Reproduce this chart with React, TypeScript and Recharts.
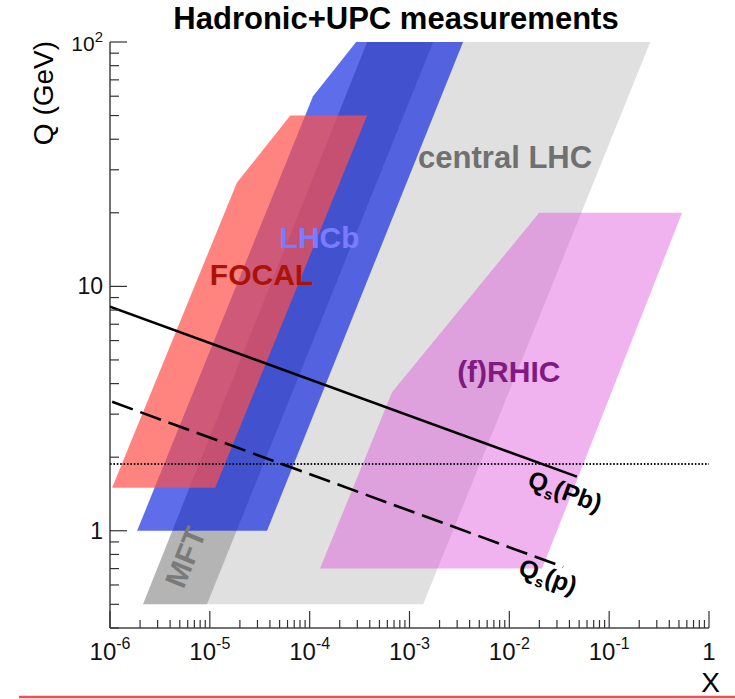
import React from 'react';
import { ComposedChart, XAxis, YAxis, Scatter, Line, ReferenceLine } from 'recharts';

// ---- axis ticks ----
const xMajorTicks = [1e-6, 1e-5, 1e-4, 1e-3, 1e-2, 1e-1, 1];
const xTickLabels = ['10^-6', '10^-5', '10^-4', '10^-3', '10^-2', '10^-1', '1'];
const yMajorTicks = [1, 10, 100];
const yTickLabels = ['1', '10', '10^2'];
const yExtraMinor = [0.4, 0.5, 0.6, 0.7, 0.8, 0.9];

// ---- acceptance regions (vertices: x, Q in GeV) ----
const centralLHC = [
  { x: 9.4e-6, q: 0.5 }, { x: 1.37e-3, q: 0.5 }, { x: 0.258, q: 100 }, { x: 1.73e-3, q: 100 },
];
const mftBand = [
  { x: 2.14e-6, q: 0.5 }, { x: 9.4e-6, q: 0.5 }, { x: 1.73e-3, q: 100 }, { x: 3.76e-4, q: 100 },
];
const lhcbBand = [
  { x: 1.87e-6, q: 1 }, { x: 3.74e-5, q: 1 }, { x: 3.44e-3, q: 100 }, { x: 2.92e-4, q: 100 }, { x: 1.08e-4, q: 60 },
];
const focalBand = [
  { x: 1.05e-6, q: 1.5 }, { x: 1.13e-5, q: 1.5 }, { x: 3.76e-4, q: 50 }, { x: 6.4e-5, q: 50 }, { x: 1.87e-5, q: 26.6 },
];
const rhicBand = [
  { x: 1.27e-4, q: 0.7 }, { x: 2.13e-2, q: 0.7 }, { x: 0.538, q: 20 }, { x: 1.99e-2, q: 20 }, { x: 6.7e-4, q: 3.7 },
];

// ---- saturation scales ----
const qsPb = [{ x: 1e-6, q: 8.26 }, { x: 0.0475, q: 1.665 }];
const qsP = [{ x: 1.05e-6, q: 3.37 }, { x: 0.0346, q: 0.711 }];
const qDotted = 1.876;

// ---- label anchors ----
const focalLabel = [{ x: 1e-5, q: 10.1 }];
const lhcbLabel = [{ x: 5.0e-5, q: 14.4 }];
const centralLabel = [{ x: 1.22e-3, q: 30.5 }];
const rhicLabel = [{ x: 3.0e-3, q: 4.06 }];
const mftLabel = [{ x: 5.65e-6, q: 0.78 }];
const qsPbLabel = [{ x: 0.0363, q: 1.455 }];
const qsPLabel = [{ x: 0.0245, q: 0.653 }];

const FONT = 'Liberation Sans, Arial, Helvetica, sans-serif';

const buildMinor = (majors: number[]) => {
  const out: number[] = [];
  for (let i = 0; i < majors.length - 1; i++) {
    for (let m = 2; m <= 9; m++) out.push(m * majors[i]);
  }
  return out;
};
const xTicksAll = [...xMajorTicks, ...buildMinor(xMajorTicks)].sort((a, b) => a - b);
const yTicksAll = [...yExtraMinor, ...yMajorTicks, ...buildMinor(yMajorTicks)].sort((a, b) => a - b);

const majorIndex = (v: number, majors: number[]) => majors.findIndex((t) => Math.abs(t - v) / t < 1e-6);

const PowText = (props: any) => {
  const { x, y, label, anchor, size, sup } = props;
  const [base, exp] = String(label).split('^');
  return (
    <text x={x} y={y} textAnchor={anchor} fontSize={size} fontFamily={FONT} fill="#111">
      {base}
      {exp !== undefined && (
        <tspan dy={-size * 0.45} fontSize={sup}>
          {exp}
        </tspan>
      )}
    </text>
  );
};

const TICK = '#333';

const makeXTick = (side: 'bottom' | 'top') => (props: any) => {
  const { x, y, payload } = props;
  const v = payload.value;
  const idx = majorIndex(v, xMajorTicks);
  const len = idx >= 0 ? 17 : 8;
  const dir = side === 'bottom' ? -1 : 1;
  return (
    <g>
      <line x1={x} y1={y} x2={x} y2={y + dir * len} stroke={TICK} strokeWidth={1.2} />
      {side === 'bottom' && idx >= 0 && (
        <PowText x={x} y={y + 32} label={xTickLabels[idx]} anchor="middle" size={24} sup={16} />
      )}
    </g>
  );
};

const makeYTick = (side: 'left' | 'right') => (props: any) => {
  const { x, y, payload } = props;
  const v = payload.value;
  const idx = majorIndex(v, yMajorTicks);
  const len = idx >= 0 ? 17 : 9;
  const dir = side === 'left' ? 1 : -1;
  const lab = idx >= 0 ? yTickLabels[idx] : null;
  return (
    <g>
      <line x1={x} y1={y} x2={x + dir * len} y2={y} stroke={TICK} strokeWidth={1.2} />
      {side === 'left' && lab && (
        <PowText
          x={x - 7}
          y={y + (lab.includes('^') ? 9 : 8)}
          label={lab}
          anchor="end"
          size={lab.includes('^') ? 21 : 23}
          sup={15}
        />
      )}
    </g>
  );
};

const polygon = (fill: string, opacity: number) => (p: any) => {
  const pts = (p.points || []).map((pt: any) => `${pt.x},${pt.y}`).join(' ');
  return <polygon points={pts} fill={fill} fillOpacity={opacity} stroke="none" />;
};

const noDot = () => <g />;

const textShape = (content: React.ReactNode, style: any) => (p: any) => {
  const { angle, ...rest } = style;
  return (
    <text
      x={p.cx}
      y={p.cy}
      fontFamily={FONT}
      fontWeight="bold"
      {...rest}
      transform={angle ? `rotate(${angle} ${p.cx} ${p.cy})` : undefined}
    >
      {content}
    </text>
  );
};

const axisLine = { stroke: '#444', strokeWidth: 1.5 };

export default function App() {
  return (
    <div style={{ position: 'absolute', left: 0, top: 0, width: 735, height: 699, background: '#fff' }}>
      <ComposedChart width={735} height={699} margin={{ top: 42, right: 26, bottom: 21, left: 50 }}>
        <XAxis
          xAxisId="b"
          dataKey="x"
          type="number"
          scale="log"
          domain={[1e-6, 1]}
          allowDataOverflow
          ticks={xTicksAll}
          interval={0}
          tickSize={0}
          tickMargin={0}
          tickLine={false}
          axisLine={axisLine}
          tick={makeXTick('bottom')}
          height={50}
        />
        <XAxis
          xAxisId="t"
          orientation="top"
          dataKey="x"
          type="number"
          scale="log"
          domain={[1e-6, 1]}
          allowDataOverflow
          ticks={xTicksAll}
          interval={0}
          tickSize={0}
          tickMargin={0}
          tickLine={false}
          axisLine={axisLine}
          tick={makeXTick('top')}
          height={0}
        />
        <YAxis
          yAxisId="l"
          dataKey="q"
          type="number"
          scale="log"
          domain={[0.4, 100]}
          allowDataOverflow
          ticks={yTicksAll}
          interval={0}
          tickSize={0}
          tickMargin={0}
          tickLine={false}
          axisLine={axisLine}
          tick={makeYTick('left')}
          width={60}
        />
        <YAxis
          yAxisId="r"
          orientation="right"
          dataKey="q"
          type="number"
          scale="log"
          domain={[0.4, 100]}
          allowDataOverflow
          ticks={yTicksAll}
          interval={0}
          tickSize={0}
          tickMargin={0}
          tickLine={false}
          axisLine={axisLine}
          tick={makeYTick('right')}
          width={0}
        />

        <Scatter xAxisId="b" yAxisId="l" data={centralLHC} line={polygon('#e0e0e0', 1)} lineType="joint" shape={noDot} isAnimationActive={false} zIndex={100} />
        <Scatter xAxisId="b" yAxisId="l" data={mftBand} line={polygon('#b4b4b4', 1)} lineType="joint" shape={noDot} isAnimationActive={false} zIndex={101} />
        <Scatter xAxisId="b" yAxisId="l" data={lhcbBand} line={polygon('#0019e0', 0.63)} lineType="joint" shape={noDot} isAnimationActive={false} zIndex={102} />
        <Scatter xAxisId="b" yAxisId="l" data={focalBand} line={polygon('#ff5048', 0.7)} lineType="joint" shape={noDot} isAnimationActive={false} zIndex={103} />
        <Scatter xAxisId="b" yAxisId="l" data={rhicBand} line={polygon('#dc4bdc', 0.42)} lineType="joint" shape={noDot} isAnimationActive={false} zIndex={104} />

        <ReferenceLine xAxisId="b" yAxisId="l" y={qDotted} stroke="#111" strokeWidth={2.2} strokeDasharray="1.6 1.8" zIndex={650} />
        <Line xAxisId="b" yAxisId="l" data={qsPb} dataKey="q" type="linear" stroke="#000" strokeWidth={2.6} dot={false} isAnimationActive={false} zIndex={660} />
        <Line xAxisId="b" yAxisId="l" data={qsP} dataKey="q" type="linear" stroke="#000" strokeWidth={2.6} strokeDasharray="22 8" dot={false} isAnimationActive={false} zIndex={661} />

        <Scatter xAxisId="b" yAxisId="l" data={focalLabel} isAnimationActive={false} zIndex={700}
          shape={textShape('FOCAL', { fontSize: 30, fill: '#aa1408', textAnchor: 'start' })} />
        <Scatter xAxisId="b" yAxisId="l" data={lhcbLabel} isAnimationActive={false} zIndex={700}
          shape={textShape('LHCb', { fontSize: 30, fill: '#7b7bff', textAnchor: 'start' })} />
        <Scatter xAxisId="b" yAxisId="l" data={centralLabel} isAnimationActive={false} zIndex={700}
          shape={textShape('central LHC', { fontSize: 31, fill: '#707070', textAnchor: 'start' })} />
        <Scatter xAxisId="b" yAxisId="l" data={rhicLabel} isAnimationActive={false} zIndex={700}
          shape={textShape('(f)RHIC', { fontSize: 30, fill: '#801a80', textAnchor: 'start' })} />
        <Scatter xAxisId="b" yAxisId="l" data={mftLabel} isAnimationActive={false} zIndex={700}
          shape={textShape('MFT', { fontSize: 30, fill: '#7a7a7a', textAnchor: 'middle', dy: '0.36em', angle: -68 })} />
        <Scatter xAxisId="b" yAxisId="l" data={qsPbLabel} isAnimationActive={false} zIndex={700}
          shape={textShape(
            <>
              Q<tspan fontSize={15} dy={5}>s</tspan>
              <tspan dy={-5}>(Pb)</tspan>
            </>,
            { fontSize: 25, fill: '#000', textAnchor: 'middle', dy: '0.36em', angle: 20 }
          )} />
        <Scatter xAxisId="b" yAxisId="l" data={qsPLabel} isAnimationActive={false} zIndex={700}
          shape={textShape(
            <>
              Q<tspan fontSize={15} dy={5}>s</tspan>
              <tspan dy={-5}>(p)</tspan>
            </>,
            { fontSize: 25, fill: '#000', textAnchor: 'middle', dy: '0.36em', angle: 20 }
          )} />
      </ComposedChart>
      <svg width={735} height={699} style={{ position: 'absolute', left: 0, top: 0, pointerEvents: 'none' }}>
        <text x={396} y={29} textAnchor="middle" fontFamily={FONT} fontWeight="bold" fontSize={31} fill="#000">
          Hadronic+UPC measurements
        </text>
        <text x={53} y={93} textAnchor="middle" fontFamily={FONT} fontSize={28} fill="#000" transform="rotate(-90 53 93)">
          Q (GeV)
        </text>
        <text x={720} y={692} textAnchor="end" fontFamily={FONT} fontSize={28} fill="#000">
          X
        </text>
        <line x1={19} y1={697} x2={735} y2={697} stroke="#f05050" strokeWidth={2.5} />
      </svg>
    </div>
  );
}
